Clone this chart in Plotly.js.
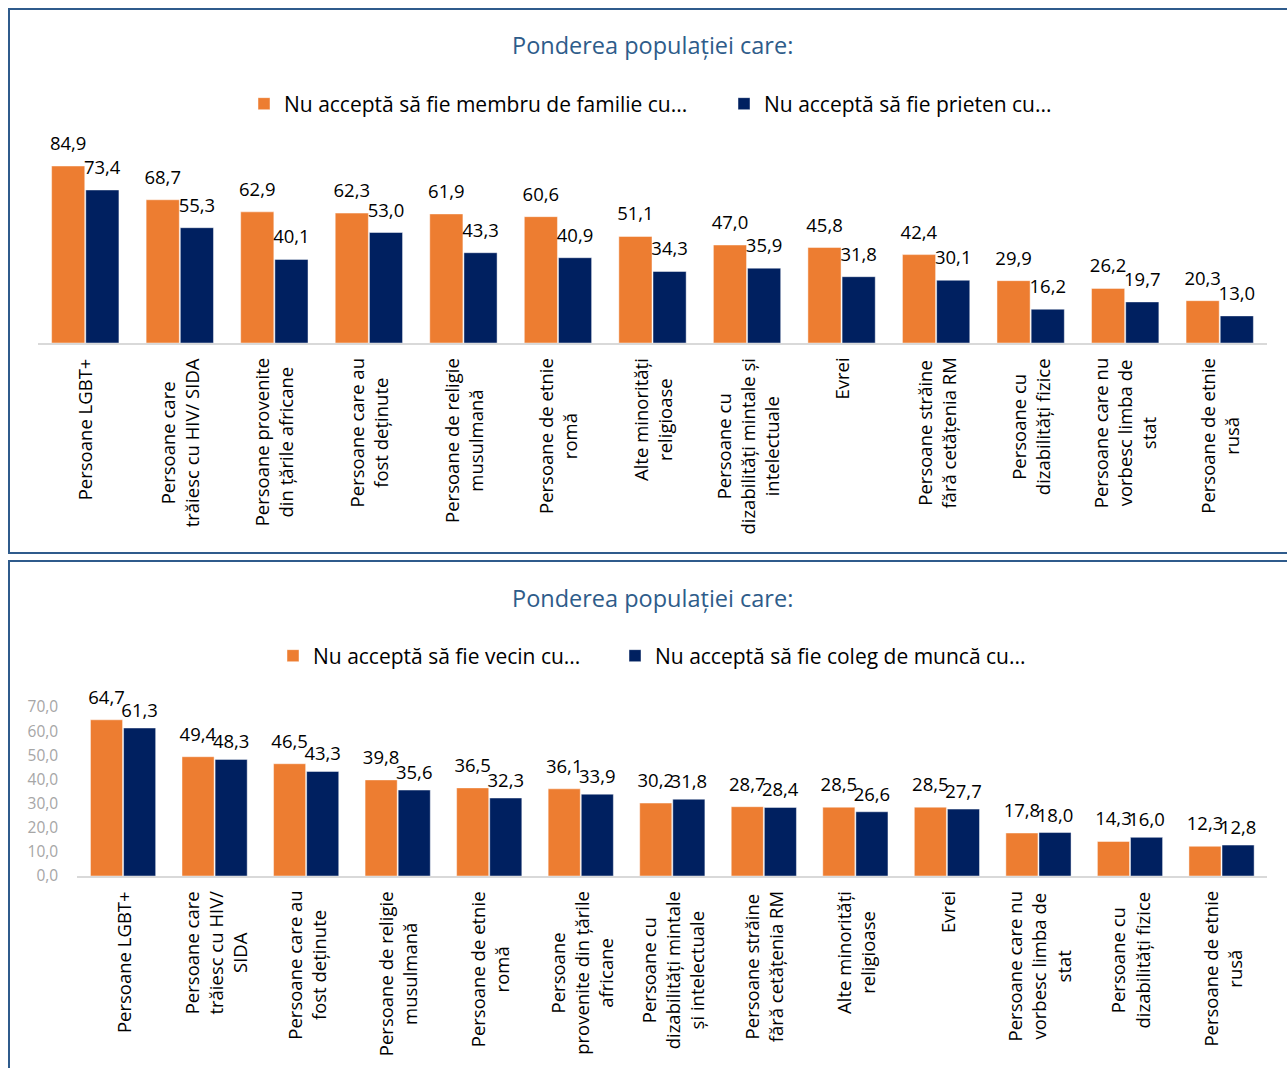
<!DOCTYPE html>
<html>
<head>
<meta charset="utf-8">
<script src="https://cdn.plot.ly/plotly-3.0.1.min.js"></script>
<style>
  html, body { margin: 0; padding: 0; background: #ffffff; }
  #chart { width: 1287px; height: 1068px; }
</style>
</head>
<body>
<div id="chart"></div>
<script>
// ---------- DATA ----------
const titleText = 'Ponderea populației care:';

const catsTop = [
  'Persoane LGBT+',
  'Persoane care<br>trăiesc cu HIV/ SIDA',
  'Persoane provenite<br>din țările africane',
  'Persoane care au<br>fost deținute',
  'Persoane de religie<br>musulmană',
  'Persoane de etnie<br>romă',
  'Alte minorități<br>religioase',
  'Persoane cu<br>dizabilități mintale și<br>intelectuale',
  'Evrei',
  'Persoane străine<br>fără cetățenia RM',
  'Persoane cu<br>dizabilități fizice',
  'Persoane care nu<br>vorbesc limba de<br>stat',
  'Persoane de etnie<br>rusă'
];
const familyName = 'Nu acceptă să fie membru de familie cu...';
const familyVals = [84.9, 68.7, 62.9, 62.3, 61.9, 60.6, 51.1, 47.0, 45.8, 42.4, 29.9, 26.2, 20.3];
const friendName = 'Nu acceptă să fie prieten cu...';
const friendVals = [73.4, 55.3, 40.1, 53.0, 43.3, 40.9, 34.3, 35.9, 31.8, 30.1, 16.2, 19.7, 13.0];

const catsBottom = [
  'Persoane LGBT+',
  'Persoane care<br>trăiesc cu HIV/<br>SIDA',
  'Persoane care au<br>fost deținute',
  'Persoane de religie<br>musulmană',
  'Persoane de etnie<br>romă',
  'Persoane<br>provenite din țările<br>africane',
  'Persoane cu<br>dizabilități mintale<br>și intelectuale',
  'Persoane străine<br>fără cetățenia RM',
  'Alte minorități<br>religioase',
  'Evrei',
  'Persoane care nu<br>vorbesc limba de<br>stat',
  'Persoane cu<br>dizabilități fizice',
  'Persoane de etnie<br>rusă'
];
const neighborName = 'Nu acceptă să fie vecin cu...';
const neighborVals = [64.7, 49.4, 46.5, 39.8, 36.5, 36.1, 30.2, 28.7, 28.5, 28.5, 17.8, 14.3, 12.3];
const colleagueName = 'Nu acceptă să fie coleg de muncă cu...';
const colleagueVals = [61.3, 48.3, 43.3, 35.6, 32.3, 33.9, 31.8, 28.4, 26.6, 27.7, 18.0, 16.0, 12.8];

const bottomTicks = [0, 10, 20, 30, 40, 50, 60, 70];

// ---------- STYLE / LAYOUT ----------
const W = 1287, H = 1068;
const px = v => v / W;
const py = v => 1 - v / H;

const ORANGE = '#ED7D31';
const NAVY = '#002060';
const BORDER = '#2F5B8C';
const TITLE_COLOR = '#2E5C8A';
const FONT = 'Open Sans';
const fmt = v => v.toFixed(1).replace('.', ',');

// top plot geometry (pixels): 84.9 units span 177 px
const topBase = 343, topTop = 120;
const topMax = (topBase - topTop) * 84.9 / 177;
// bottom plot geometry
const botBase = 876, botTop = 707, botMax = 70;

const unitsPerPxTop = topMax / (topBase - topTop);
const unitsPerPxBot = botMax / (botBase - botTop);

function series(cats, vals, name, color, xa, ya, legend, group, liftPx, upp) {
  const bar = {
    type: 'bar', x: cats, y: vals, name: name,
    marker: { color: color, line: { color: 'rgba(255,255,255,0.45)', width: 1 } },
    xaxis: xa, yaxis: ya, offsetgroup: group, legend: legend,
    hovertemplate: '%{y:.1f}<extra>' + name + '</extra>'
  };
  const label = {
    type: 'bar', x: cats, y: vals.map(() => liftPx * upp), base: vals,
    marker: { color: 'rgba(0,0,0,0)' },
    text: vals.map(fmt), textposition: 'outside', constraintext: 'none',
    cliponaxis: false,
    outsidetextfont: { family: FONT, size: 18.5, color: '#000000' },
    textfont: { family: FONT, size: 18.5, color: '#000000' },
    xaxis: xa, yaxis: ya, offsetgroup: group, showlegend: false, hoverinfo: 'skip'
  };
  return [bar, label];
}

const data = [].concat(
  series(catsTop, familyVals, familyName, ORANGE, 'x', 'y', 'legend', 'A', 8, unitsPerPxTop),
  series(catsTop, friendVals, friendName, NAVY, 'x', 'y', 'legend2', 'B', 8, unitsPerPxTop),
  series(catsBottom, neighborVals, neighborName, ORANGE, 'x2', 'y2', 'legend3', 'A', 8, unitsPerPxBot),
  series(catsBottom, colleagueVals, colleagueName, NAVY, 'x2', 'y2', 'legend4', 'B', 3, unitsPerPxBot)
);

const catFont = { family: FONT, size: 18.5, color: '#000000' };
const annotations = [];
catsTop.forEach(c => annotations.push({
  xref: 'x', yref: 'paper', x: c, y: py(356), text: c, textangle: -90,
  xanchor: 'center', yanchor: 'top', align: 'center', showarrow: false, font: catFont
}));
catsBottom.forEach(c => annotations.push({
  xref: 'x2', yref: 'paper', x: c, y: py(889), text: c, textangle: -90,
  xanchor: 'center', yanchor: 'top', align: 'center', showarrow: false, font: catFont
}));
[45, 598].forEach(yy => annotations.push({
  xref: 'paper', yref: 'paper', x: px(652), y: py(yy), text: titleText,
  xanchor: 'center', yanchor: 'middle', showarrow: false,
  font: { family: FONT, size: 23.5, color: TITLE_COLOR }
}));

const legendFont = { family: FONT, size: 21, color: '#000000' };
function leg(xLeft, yMid) {
  return { orientation: 'h', x: px(xLeft), xanchor: 'left', y: py(yMid), yanchor: 'middle',
           font: legendFont, bgcolor: 'rgba(0,0,0,0)', borderwidth: 0 };
}

const layout = {
  width: W, height: H,
  margin: { l: 0, r: 0, t: 0, b: 0 },
  paper_bgcolor: '#ffffff', plot_bgcolor: 'rgba(0,0,0,0)',
  separators: ', ',
  barmode: 'group',
  bargap: 0.277, bargroupgap: 0.03,
  showlegend: true,
  font: { family: FONT, color: '#000000' },
  xaxis: {
    domain: [px(38), px(1267)], type: 'category', anchor: 'y',
    showline: true, linecolor: '#D9D9D9', linewidth: 1.5,
    showticklabels: false, ticks: '', showgrid: false, zeroline: false, fixedrange: true
  },
  yaxis: {
    domain: [py(topBase), py(topTop)], range: [0, topMax], anchor: 'x',
    visible: false, showgrid: false, zeroline: false, fixedrange: true
  },
  xaxis2: {
    domain: [px(77.3), px(1267.3)], type: 'category', anchor: 'y2',
    showline: true, linecolor: '#D9D9D9', linewidth: 1.5,
    showticklabels: false, ticks: '', showgrid: false, zeroline: false, fixedrange: true
  },
  yaxis2: {
    domain: [py(botBase), py(botTop)], range: [0, botMax], anchor: 'x2',
    tickmode: 'array', tickvals: bottomTicks, ticktext: bottomTicks.map(fmt),
    showgrid: false, zeroline: false, showline: false,
    ticks: 'outside', ticklen: 15, tickcolor: 'rgba(0,0,0,0)',
    tickfont: { family: FONT, size: 15.5, color: '#A6A6A6' }, fixedrange: true
  },
  legend: leg(244, 104),
  legend2: leg(724, 104),
  legend3: leg(273, 656),
  legend4: leg(615, 656),
  shapes: [
    { type: 'rect', xref: 'paper', yref: 'paper', x0: px(9), x1: px(1300), y0: py(553), y1: py(9),
      line: { color: BORDER, width: 2 }, fillcolor: 'rgba(0,0,0,0)' },
    { type: 'rect', xref: 'paper', yref: 'paper', x0: px(9), x1: px(1300), y0: py(1080), y1: py(561),
      line: { color: BORDER, width: 2 }, fillcolor: 'rgba(0,0,0,0)' }
  ],
  annotations: annotations
};

Plotly.newPlot('chart', data, layout, { displayModeBar: false });
</script>
</body>
</html>
